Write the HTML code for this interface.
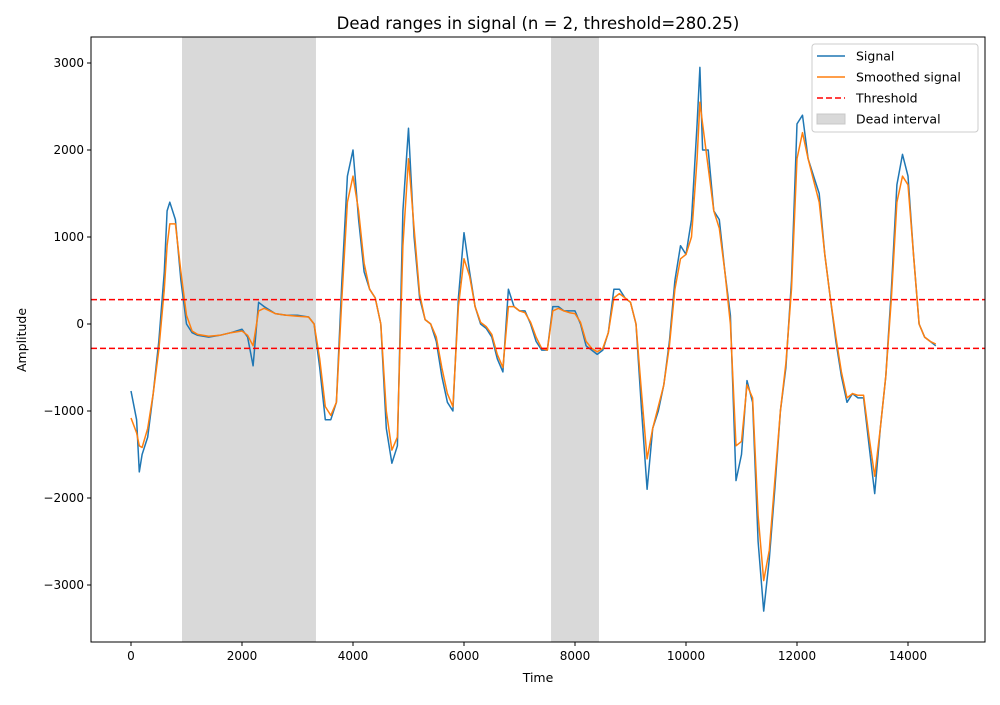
<!DOCTYPE html>
<html><head><meta charset="utf-8"><style>
body{margin:0;background:#fff;font-family:"Liberation Sans","DejaVu Sans",sans-serif;}
svg text{font-family:"DejaVu Sans","Liberation Sans",sans-serif;}
</style></head><body>
<svg id="chart" width="1000" height="700" xmlns="http://www.w3.org/2000/svg"></svg>
<script>
const times=[0,100,150,200,300,400,500,600,650,700,800,900,1000,1100,1200,1400,1600,1800,2000,2100,2200,2300,2400,2600,2800,3000,3200,3300,3400,3500,3600,3700,3800,3900,4000,4100,4200,4300,4400,4500,4600,4700,4800,4900,5000,5100,5200,5300,5400,5500,5600,5700,5800,5900,6000,6100,6200,6300,6400,6500,6600,6700,6800,6900,7000,7100,7200,7300,7400,7500,7600,7700,7800,7900,8000,8100,8200,8300,8400,8500,8600,8700,8800,8900,9000,9100,9200,9300,9400,9500,9600,9700,9800,9900,10000,10100,10200,10250,10300,10400,10500,10600,10700,10800,10900,11000,11100,11200,11300,11400,11500,11600,11700,11800,11900,12000,12100,12200,12300,12400,12500,12600,12700,12800,12900,13000,13100,13200,13300,13400,13500,13600,13700,13800,13900,14000,14100,14200,14300,14400,14500];
const signal=[-770,-1100,-1700,-1500,-1300,-800,-200,600,1300,1400,1200,500,0,-100,-130,-150,-130,-100,-60,-150,-480,250,200,120,100,100,80,0,-500,-1100,-1100,-900,500,1700,2000,1200,600,400,300,0,-1200,-1600,-1400,1300,2250,1000,300,50,0,-200,-600,-900,-1000,300,1050,600,200,0,-50,-150,-400,-550,400,200,150,150,0,-200,-300,-300,200,200,150,150,150,0,-250,-300,-350,-300,-100,400,400,300,250,0,-1000,-1900,-1200,-1000,-700,-200,500,900,800,1200,2300,2950,2000,2000,1300,1200,600,100,-1800,-1500,-650,-900,-2500,-3300,-2700,-1900,-1000,-500,500,2300,2400,1900,1700,1500,800,300,-200,-600,-900,-800,-850,-850,-1400,-1950,-1200,-600,400,1600,1950,1700,800,0,-150,-200,-250];
const smooth=[-1080,-1250,-1400,-1420,-1200,-800,-300,400,900,1150,1150,600,100,-80,-120,-140,-130,-100,-80,-130,-250,150,180,120,100,90,80,0,-400,-950,-1050,-900,300,1400,1700,1300,700,400,300,0,-1000,-1450,-1300,900,1900,1100,350,50,0,-150,-500,-800,-950,200,750,550,200,20,-30,-120,-350,-500,200,200,150,130,20,-150,-280,-300,150,180,150,130,120,20,-200,-280,-320,-280,-100,300,350,300,250,0,-800,-1550,-1200,-950,-700,-250,400,750,800,1000,1900,2550,2300,1800,1300,1100,600,0,-1400,-1350,-700,-850,-2200,-2950,-2600,-1800,-1000,-450,400,1900,2200,1900,1650,1400,800,300,-150,-550,-850,-800,-820,-820,-1300,-1750,-1200,-600,300,1400,1700,1600,800,0,-150,-200,-230];
const deadStart=[919,7568];
const deadEnd=[3333,8432];
const threshold=280.25;
const xTicks=[0,2000,4000,6000,8000,10000,12000,14000];
const yTicks=[-3000,-2000,-1000,0,1000,2000,3000];

const NS="http://www.w3.org/2000/svg";
const svg=document.getElementById('chart');
const L=91,R=985,T=37,B=642;
const X=t=>131+t*(777/14000);
const Y=v=>324-v*(261/3000);
function el(tag,attrs,parent){const e=document.createElementNS(NS,tag);for(const k in attrs)e.setAttribute(k,attrs[k]);(parent||svg).appendChild(e);return e;}
const clip=el('clipPath',{id:'pc'});el('rect',{x:L,y:T,width:R-L,height:B-T},clip);
const plot=el('g',{'clip-path':'url(#pc)'});


deadStart.forEach((s,i)=>{const r=el('rect',{x:X(s),y:T,width:X(deadEnd[i])-X(s),height:B-T,fill:'#d9d9d9'},plot);

});
function line(vals,color,name){const d=vals.map((v,i)=>(i?'L':'M')+X(times[i]).toFixed(1)+','+Y(v).toFixed(1)).join('');
const p=el('path',{d:d,fill:'none',stroke:color,'stroke-width':1.5,'stroke-linejoin':'round'},plot);

}
line(signal,'#1f77b4','signal-line');
line(smooth,'#ff7f0e','smoothed-signal-line');
[threshold,-threshold].forEach((v,i)=>{const l=el('line',{x1:L,x2:R,y1:Y(v),y2:Y(v),stroke:'red','stroke-width':1.5,'stroke-dasharray':'6,3'},plot);

});
const frame=el('rect',{x:L,y:T,width:R-L,height:B-T,fill:'none',stroke:'#000','stroke-width':1});


xTicks.forEach(t=>{el('line',{x1:X(t),x2:X(t),y1:B,y2:B+4,stroke:'#000'});
const tx=el('text',{x:X(t),y:B+18,'font-size':12,'text-anchor':'middle'});tx.textContent=t;

});
yTicks.forEach(v=>{el('line',{x1:L-4,x2:L,y1:Y(v),y2:Y(v),stroke:'#000'});
const tx=el('text',{x:L-7,y:Y(v)+4,'font-size':12,'text-anchor':'end'});tx.textContent=String(v).replace('-','\u2212');

});
let t=el('text',{x:538,y:29,'font-size':16.5,'text-anchor':'middle'});t.textContent='Dead ranges in signal (n = 2, threshold=280.25)';


t=el('text',{x:538,y:682,'font-size':12.5,'text-anchor':'middle'});t.textContent='Time';


t=el('text',{x:26,y:340,'font-size':12.5,'text-anchor':'middle',transform:'rotate(-90 26 340)'});t.textContent='Amplitude';


const lg=el('g',{});


el('rect',{x:812,y:44,width:166,height:88,rx:3,fill:'#fff','fill-opacity':0.8,stroke:'#ccc'},lg);
const items=[['Signal','#1f77b4','l'],['Smoothed signal','#ff7f0e','l'],['Threshold','red','d'],['Dead interval','#d9d9d9','r']];
items.forEach((it,i)=>{const y=56+i*21;
if(it[2]==='r')el('rect',{x:817,y:y-5,width:28,height:10,fill:it[1],stroke:'#c8c8c8'},lg);
else el('line',{x1:817,x2:845,y1:y,y2:y,stroke:it[1],'stroke-width':1.5,'stroke-dasharray':it[2]==='d'?'6,3':'none'},lg);
const tx=el('text',{x:856,y:y+4.5,'font-size':12.5},lg);tx.textContent=it[0];

});
</script>
</body></html>
